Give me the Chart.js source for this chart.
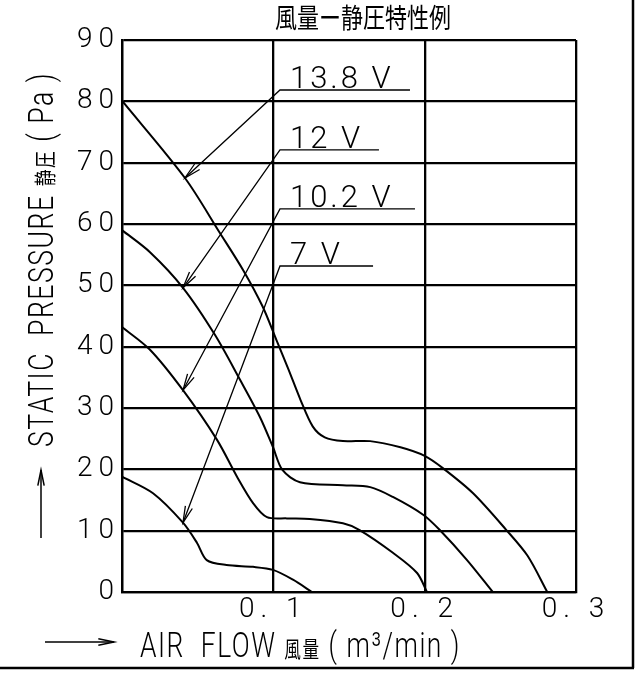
<!DOCTYPE html>
<html>
<head>
<meta charset="utf-8">
<title>風量ー静圧特性例</title>
<script src="https://cdn.jsdelivr.net/npm/chart.js@4.4.1/dist/chart.umd.min.js"></script>
<style>
    html, body { margin: 0; padding: 0; background: #fff; }
    .chart-box { width: 637px; height: 674px; }
</style>
</head>
<body>
<div class="chart-box"><canvas id="fanChart"></canvas></div>
<script>
// tick labels
const xTicks = [0, 0.1, 0.2, 0.3];
const yTicks = [0, 10, 20, 30, 40, 50, 60, 70, 80, 90];

// series: air flow (m3/min) and static pressure (Pa)
const voltages = ['13.8 V', '12 V', '10.2 V', '7 V'];

const flow138 = [0, 0.0416, 0.0648, 0.080, 0.093, 0.102, 0.110, 0.118, 0.126, 0.134, 0.146, 0.164, 0.184, 0.200, 0.212, 0.232, 0.254, 0.268, 0.281];
const pres138 = [80.1, 67.5, 58.5, 52.5, 46.5, 41.1, 36.3, 31.3, 27.0, 25.2, 24.6, 24.6, 23.6, 22.2, 20.2, 16.1, 10.1, 5.9, 0];

const flow12 = [0, 0.0185, 0.0403, 0.0615, 0.078, 0.0912, 0.0998, 0.106, 0.1176, 0.146, 0.164, 0.179, 0.199, 0.210, 0.228, 0.245];
const pres12 = [59.0, 55.4, 49.6, 41.9, 34.6, 28.5, 23.6, 19.9, 17.9, 17.4, 17.1, 15.5, 12.6, 10.1, 5.2, 0];

const flow102 = [0, 0.0185, 0.0403, 0.0628, 0.076, 0.0866, 0.0958, 0.109, 0.124, 0.146, 0.157, 0.179, 0.195, 0.2015];
const pres102 = [43.2, 39.5, 32.9, 24.8, 18.8, 14.5, 12.2, 12.0, 11.9, 11.2, 10.1, 6.4, 3.1, 0];

const flow7 = [0, 0.0205, 0.0403, 0.0496, 0.056, 0.069, 0.0866, 0.0998, 0.113, 0.1255];
const pres7 = [18.8, 16.1, 11.3, 8.0, 5.2, 4.4, 4.1, 3.6, 2.0, 0];

const flows = [flow138, flow12, flow102, flow7];
const pressures = [pres138, pres12, pres102, pres7];

// where the voltage labels sit (axis units) and which point each arrow hits
const leaderY = [81.85, 72.1, 62.45, 53.15];
const leaderEnd = [0.1903, 0.1698, 0.1936, 0.1659];
const leaderStart = 0.1044;
const leaderText = 0.111;
const arrowIndex = [1, 2, 2, 2];

const latin = '"Roboto", "DejaVu Sans", sans-serif';
const cjk = '"Noto Sans CJK JP", sans-serif';


function arrowHead(ctx, tipX, tipY, fromX, fromY, len, spread) {
    const ang = Math.atan2(fromY - tipY, fromX - tipX);
    ctx.beginPath();
    ctx.moveTo(tipX + len * Math.cos(ang - spread), tipY + len * Math.sin(ang - spread));
    ctx.lineTo(tipX, tipY);
    ctx.lineTo(tipX + len * Math.cos(ang + spread), tipY + len * Math.sin(ang + spread));
    ctx.stroke();
}

// draws pieces of text one after another and squeezes them into a given width
function fitText(ctx, parts, x, y, width, angle, spacing) {
    ctx.save();
    ctx.translate(x, y);
    ctx.rotate(angle);
    ctx.letterSpacing = spacing;
    ctx.textAlign = 'left';
    ctx.textBaseline = 'alphabetic';
    let total = 0;
    parts.forEach(p => { ctx.font = p.f; total += ctx.measureText(p.t).width; });
    ctx.scale(width / total, 1);
    let cx = 0;
    parts.forEach(p => {
        ctx.font = p.f;
        ctx.fillText(p.t, cx, p.dy || 0);
        cx += ctx.measureText(p.t).width;
    });
    ctx.restore();
}

function drawLeaders(chart) {
    const ctx = chart.ctx;
    const xs = chart.scales.x;
    const ys = chart.scales.y;
    ctx.save();
    ctx.strokeStyle = '#000';
    ctx.fillStyle = '#000';
    ctx.lineWidth = 1.3;
    voltages.forEach((label, i) => {
        const tip = chart.getDatasetMeta(i).data[arrowIndex[i]];
        const yU = ys.getPixelForValue(leaderY[i]);
        const xL = xs.getPixelForValue(leaderStart);
        const xR = xs.getPixelForValue(leaderEnd[i]);
        ctx.beginPath();
        ctx.moveTo(xR, yU);
        ctx.lineTo(xL, yU);
        ctx.lineTo(tip.x, tip.y);
        ctx.stroke();
        arrowHead(ctx, tip.x, tip.y, xL, yU, 17, 0.22);

        ctx.font = '300 31px ' + latin;
        ctx.letterSpacing = '3px';
        ctx.textAlign = 'left';
        ctx.textBaseline = 'alphabetic';
        ctx.fillText(label, xs.getPixelForValue(leaderText), yU - 2);
    });
    ctx.restore();
}

function drawDecor(chart) {
    const ctx = chart.ctx;
    ctx.save();
    ctx.fillStyle = '#000';
    ctx.strokeStyle = '#000';

    // title
    fitText(ctx, [{ t: '風量ー静圧特性例', f: '27px ' + cjk }], 275, 28, 176, 0, '0px');

    // y axis title with arrow
    fitText(ctx, [
        { t: 'STATIC  PRESSURE ', f: '300 35px ' + latin },
        { t: '静圧', f: '22px ' + cjk },
        { t: ' ( Pa )', f: '300 35px ' + latin }
    ], 53, 447, 375, -Math.PI / 2, '2px');
    ctx.lineWidth = 1.5;
    ctx.beginPath();
    ctx.moveTo(41, 538);
    ctx.lineTo(41, 470);
    ctx.stroke();
    arrowHead(ctx, 41, 470, 41, 538, 16, 0.2);

    // x axis title with arrow
    fitText(ctx, [
        { t: 'AIR  FLOW ', f: '300 35px ' + latin },
        { t: '風量', f: '22px ' + cjk },
        { t: ' ( m³/min )', f: '300 35px ' + latin }
    ], 140, 657, 321, 0, '2px');
    ctx.beginPath();
    ctx.moveTo(45, 642);
    ctx.lineTo(114, 642);
    ctx.stroke();
    arrowHead(ctx, 114, 642, 45, 642, 16, 0.2);

    // frame of the sheet
    ctx.lineWidth = 2.5;
    ctx.beginPath();
    ctx.moveTo(633, 0);
    ctx.lineTo(633, 668);
    ctx.moveTo(0, 668);
    ctx.lineTo(634, 668);
    ctx.stroke();
    ctx.restore();
}

const decorPlugin = {
    id: 'fanDecor',
    beforeDraw(chart) {
        chart.ctx.letterSpacing = '6px';
    },
    afterDatasetsDraw(chart) {
        drawLeaders(chart);
    },
    afterDraw(chart) {
        drawDecor(chart);
        chart.ctx.letterSpacing = '0px';
    }
};

const datasets = voltages.map((v, i) => ({
    label: v,
    data: flows[i].map((f, j) => ({ x: f, y: pressures[i][j] })),
    showLine: true,
    borderColor: '#000',
    borderWidth: 2,
    pointRadius: 0,
    tension: 0.3,
    fill: false
}));

const tickFont = { family: latin, size: 28, weight: '300' };

const fanChart = new Chart(document.getElementById('fanChart'), {
    type: 'scatter',
    data: { datasets: datasets },
    plugins: [decorPlugin],
    options: {
        responsive: true,
        maintainAspectRatio: false,
        animation: false,
        layout: { padding: { top: 40, right: 61, left: 0, bottom: 0 } },
        plugins: {
            legend: { display: false },
            tooltip: { enabled: false }
        },
        scales: {
            x: {
                type: 'linear',
                min: 0,
                max: 0.3,
                afterBuildTicks: (scale) => { scale.ticks = xTicks.map(v => ({ value: v })); },
                afterFit: (scale) => { scale.height = 82; },
                grid: { color: '#000', lineWidth: 2.3, drawTicks: false },
                border: { display: true, color: '#000', width: 2.3 },
                ticks: {
                    color: '#000',
                    font: tickFont,
                    padding: 1,
                    maxRotation: 0,
                    autoSkip: false,
                    callback: (v) => v === 0 ? '' : v.toFixed(1).replace('.', '. ')
                }
            },
            y: {
                type: 'linear',
                min: 0,
                max: 90,
                afterBuildTicks: (scale) => { scale.ticks = yTicks.map(v => ({ value: v })); },
                afterFit: (scale) => { scale.width = 122; },
                grid: { color: '#000', lineWidth: 2.3, drawTicks: false },
                border: { display: true, color: '#000', width: 2.3 },
                ticks: {
                    color: '#000',
                    font: tickFont,
                    padding: 2,
                    autoSkip: false,
                    callback: (v) => String(v)
                }
            }
        }
    }
});
</script>
</body>
</html>
